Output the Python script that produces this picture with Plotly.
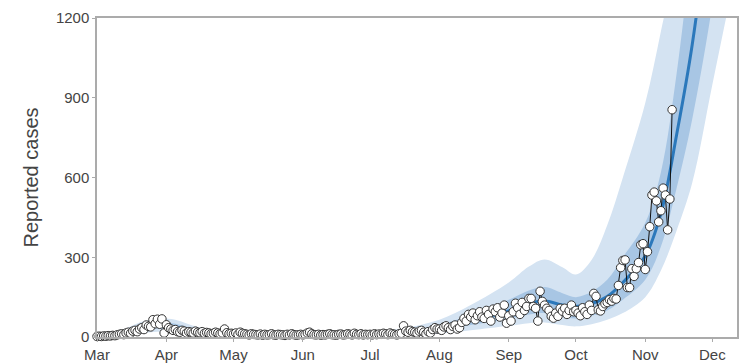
import pandas as pd
import plotly.graph_objects as go

# ---- observed daily reported cases (2020), one list per month ----
cases_mar = [2,3,2,4,3,5,4,6,5,8,10,12,9,15,18,14,22,25,20,30,35,28,45,40,38,65,50,67,48,68,15]
cases_apr = [46,35,30,25,28,20,18,25,22,15,20,18,15,22,18,16,20,14,17,15,12,14,18,15,12,15,30,16,12,14]
cases_may = [12,15,10,18,14,12,10,8,12,10,9,8,11,7,10,8,9,12,8,7,10,9,8,6,10,8,12,9,7,8,10]
cases_jun = [8,10,15,18,12,9,8,10,7,9,8,10,12,9,8,7,10,11,8,9,12,10,8,14,10,9,12,8,10,9]
cases_jul = [10,8,12,9,11,10,14,12,9,15,12,10,8,12,14,42,22,18,25,20,18,15,22,25,18,12,20,15,28,35,30]
cases_aug = [30,25,38,42,35,28,40,45,30,35,55,70,60,85,75,90,65,80,95,75,70,100,85,60,105,95,110,75,90,120,52]
cases_sep = [80,60,95,127,110,85,130,100,115,145,145,115,108,60,172,134,120,108,100,78,71,90,78,108,97,108,85,100,120,95]
cases_oct = [100,90,80,110,95,85,120,100,164,153,102,98,115,125,
             130,140,135,145,143,194,261,288,290,186,186,257,228,257,280,347,351]
cases_nov = [254,321,415,534,545,512,433,475,560,534,403,519,855]

# ---- model fit: median and credible bands at key dates ----
model_dates = ["2020-03-01","2020-03-10","2020-03-20","2020-03-28","2020-04-05","2020-04-15",
               "2020-05-01","2020-06-01","2020-07-01","2020-07-15","2020-08-01","2020-08-15",
               "2020-09-01","2020-09-10","2020-09-17","2020-09-25","2020-10-01","2020-10-08",
               "2020-10-15","2020-10-22","2020-11-01","2020-11-08","2020-11-15","2020-11-22",
               "2020-12-01","2020-12-12"]
median   = [1, 8, 30, 45, 38, 20, 10, 7, 10, 15, 32, 62, 98, 125, 135, 120, 115, 125, 152, 205, 305, 465, 760, 1100, 1700, 2600]
dark_lo  = [0, 5, 20, 32, 25, 13, 6, 4, 6, 10, 22, 45, 68, 85, 90, 75, 70, 80, 100, 140, 215, 340, 560, 820, 1250, 1900]
dark_hi  = [2, 12, 40, 58, 50, 28, 14, 10, 14, 22, 45, 85, 140, 175, 188, 165, 150, 170, 215, 300, 430, 620, 990, 1500, 2300, 3500]
light_lo = [0, 2, 12, 20, 15, 7, 3, 2, 3, 6, 12, 25, 42, 52, 55, 45, 40, 48, 65, 90, 150, 250, 400, 580, 950, 1400]
light_hi = [3, 18, 55, 70, 65, 38, 20, 15, 20, 32, 65, 120, 205, 265, 292, 262, 235, 290, 420, 600, 880, 1150, 1450, 2200, 3200, 4500]

y_ticks = [0, 300, 600, 900, 1200]
x_ticks = ["2020-03-01","2020-04-01","2020-05-01","2020-06-01","2020-07-01",
           "2020-08-01","2020-09-01","2020-10-01","2020-11-01","2020-12-01"]
x_tick_labels = ["Mar","Apr","May","Jun","Jul","Aug","Sep","Oct","Nov","Dec"]

cases = cases_mar + cases_apr + cases_may + cases_jun + cases_jul + cases_aug + cases_sep + cases_oct + cases_nov
dates = pd.date_range("2020-03-01", periods=len(cases), freq="D")
mdates = pd.to_datetime(model_dates)

LIGHT = "#d4e3f2"
DARK = "#a8c6e4"
LINE = "#2b78bb"
FONT = "Liberation Sans, Arial, sans-serif"

fig = go.Figure()
fig.add_trace(go.Scatter(x=mdates, y=light_lo, mode="lines", line=dict(width=0, shape="spline", smoothing=1),
                         hoverinfo="skip", showlegend=False))
fig.add_trace(go.Scatter(x=mdates, y=light_hi, mode="lines", line=dict(width=0, shape="spline", smoothing=1),
                         fill="tonexty", fillcolor=LIGHT, hoverinfo="skip", showlegend=False))
fig.add_trace(go.Scatter(x=mdates, y=dark_lo, mode="lines", line=dict(width=0, shape="spline", smoothing=1),
                         hoverinfo="skip", showlegend=False))
fig.add_trace(go.Scatter(x=mdates, y=dark_hi, mode="lines", line=dict(width=0, shape="spline", smoothing=1),
                         fill="tonexty", fillcolor=DARK, hoverinfo="skip", showlegend=False))
fig.add_trace(go.Scatter(x=mdates, y=median, mode="lines", line=dict(width=3, color=LINE, shape="spline", smoothing=1),
                         showlegend=False))
fig.add_trace(go.Scatter(x=dates, y=cases, mode="lines+markers",
                         line=dict(color="#111111", width=1),
                         marker=dict(size=8.5, color="white", line=dict(color="#333333", width=1)),
                         cliponaxis=False, showlegend=False))

axis_common = dict(showline=True, linecolor="#ababab", linewidth=1.5, mirror=True,
                   ticks="outside", tickcolor="#ababab", ticklen=3, tickwidth=1,
                   showgrid=False, zeroline=False, automargin=False,
                   tickfont=dict(family=FONT, size=15, color="#444444"))

fig.update_xaxes(range=["2020-03-01", "2020-12-12"], tickvals=pd.to_datetime(x_ticks), ticktext=x_tick_labels,
                 **axis_common)
fig.update_yaxes(range=[0, 1200], tickvals=y_ticks, ticktext=[str(v) for v in y_ticks],
                 title=dict(text="Reported cases", font=dict(family=FONT, size=20, color="#444444"),
                            standoff=12),
                 **axis_common)

fig.update_layout(width=744, height=364, margin=dict(l=97, r=7, t=18, b=27),
                  plot_bgcolor="white", paper_bgcolor="white", showlegend=False)

fig.write_html("out.html")
